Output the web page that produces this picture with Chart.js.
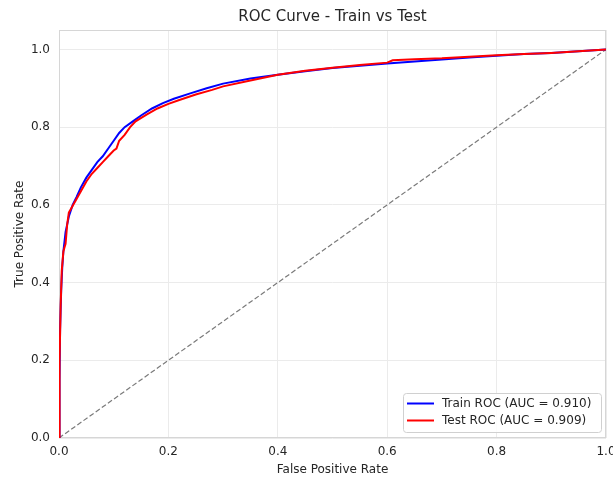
<!DOCTYPE html>
<html>
<head>
<meta charset="utf-8">
<script src="https://cdn.jsdelivr.net/npm/chart.js@4/dist/chart.umd.min.js"></script>
<style>
  html, body { margin: 0; padding: 0; background: #fff; }
  #wrap { width: 613px; height: 477px; }
</style>
</head>
<body>
<div id="wrap"><canvas id="roc" width="613" height="477"></canvas></div>
<script>
// ROC curve - train
var trainFpr = [0, 0.001, 0.002, 0.004, 0.006, 0.008, 0.012, 0.018, 0.025, 0.032, 0.04, 0.05, 0.06, 0.07, 0.08, 0.09, 0.1, 0.11, 0.12, 0.135, 0.15, 0.17, 0.19, 0.21, 0.24, 0.27, 0.3, 0.35, 0.4, 0.45, 0.5, 0.55, 0.6, 0.65, 0.7, 0.75, 0.8, 0.85, 0.9, 0.95, 1.0];
var trainTpr = [0, 0.15, 0.28, 0.38, 0.44, 0.48, 0.53, 0.57, 0.6, 0.62, 0.645, 0.67, 0.69, 0.71, 0.725, 0.745, 0.765, 0.785, 0.8, 0.815, 0.83, 0.848, 0.862, 0.873, 0.887, 0.9, 0.912, 0.925, 0.935, 0.944, 0.952, 0.958, 0.964, 0.969, 0.974, 0.979, 0.984, 0.988, 0.991, 0.995, 1.0];

// ROC curve - test
var testFpr = [0, 0.001, 0.003, 0.005, 0.008, 0.01, 0.012, 0.015, 0.018, 0.022, 0.03, 0.04, 0.05, 0.06, 0.07, 0.08, 0.09, 0.1, 0.105, 0.11, 0.12, 0.13, 0.14, 0.16, 0.18, 0.2, 0.22, 0.25, 0.28, 0.3, 0.35, 0.4, 0.45, 0.5, 0.55, 0.6, 0.61, 0.65, 0.7, 0.75, 0.8, 0.85, 0.9, 0.95, 1.0];
var testTpr = [0, 0.2, 0.34, 0.43, 0.48, 0.49, 0.5, 0.55, 0.58, 0.59, 0.61, 0.635, 0.66, 0.68, 0.695, 0.71, 0.725, 0.74, 0.745, 0.765, 0.78, 0.8, 0.815, 0.832, 0.848, 0.86, 0.87, 0.884, 0.896, 0.905, 0.92, 0.935, 0.945, 0.953, 0.96, 0.966, 0.972, 0.975, 0.977, 0.981, 0.985, 0.988, 0.991, 0.995, 1.0];

// chance line
var diagX = [0, 1];
var diagY = [0, 1];

var seriesNames = ['Train ROC (AUC = 0.910)', 'Test ROC (AUC = 0.909)'];
var xTicks = [0, 0.2, 0.4, 0.6, 0.8, 1.0];
var yTicks = [0, 0.2, 0.4, 0.6, 0.8, 1.0];

function pontos(xs, ys) {
  var out = [];
  for (var i = 0; i < xs.length; i++) out.push({x: xs[i], y: ys[i]});
  return out;
}

var fonte = 'DejaVu Sans';
var corTexto = '#262626';

// moldura do grafico + legenda dentro da area
var extras = {
  id: 'extras',
  beforeDatasetsDraw: function(chart) {
    var a = chart.chartArea, c = chart.ctx;
    c.save();
    c.strokeStyle = '#d6d6d6';
    c.lineWidth = 1;
    c.strokeRect(a.left + 0.5, a.top + 0.5, a.right - a.left - 1, a.bottom - a.top - 1);
    c.restore();
  },
  afterDraw: function(chart) {
    var a = chart.chartArea, c = chart.ctx;
    var ds = chart.data.datasets;
    var bx = a.right - 203, by = a.bottom - 45, bw = 198, bh = 39;
    c.save();
    c.fillStyle = 'rgba(255,255,255,0.85)';
    c.strokeStyle = '#d0d0d0';
    c.lineWidth = 1;
    c.beginPath();
    c.roundRect(bx + 0.5, by + 0.5, bw, bh, 3);
    c.fill();
    c.stroke();
    c.font = '12px "' + fonte + '"';
    c.textBaseline = 'middle';
    for (var i = 0; i < 2; i++) {
      var ly = by + 10.5 + i * 17;
      c.strokeStyle = ds[i].borderColor;
      c.lineWidth = 2;
      c.beginPath();
      c.moveTo(bx + 4, ly);
      c.lineTo(bx + 31, ly);
      c.stroke();
      c.fillStyle = corTexto;
      c.fillText(seriesNames[i], bx + 39, ly + 0.5);
    }
    c.restore();
  }
};

var ctx = document.getElementById('roc');
var grafico = new Chart(ctx, {
  type: 'line',
  data: {
    datasets: [
      {
        label: seriesNames[0],
        data: pontos(trainFpr, trainTpr),
        borderColor: '#0000ff',
        borderWidth: 2,
        pointRadius: 0,
        tension: 0,
        fill: false,
        order: 2
      },
      {
        label: seriesNames[1],
        data: pontos(testFpr, testTpr),
        borderColor: '#ff0000',
        borderWidth: 2,
        pointRadius: 0,
        tension: 0,
        fill: false,
        order: 1
      },
      {
        label: 'chance',
        data: pontos(diagX, diagY),
        borderColor: '#7a7a7a',
        borderWidth: 1.2,
        borderDash: [5, 2.5],
        pointRadius: 0,
        fill: false,
        order: 3
      }
    ]
  },
  options: {
    responsive: false,
    animation: false,
    layout: { padding: { left: 13, right: 7, top: 0, bottom: 0 } },
    plugins: {
      legend: { display: false },
      tooltip: { enabled: false },
      title: {
        display: true,
        text: 'ROC Curve - Train vs Test',
        fullSize: false,
        color: corTexto,
        font: { family: fonte, size: 15, weight: 'normal' },
        padding: { top: 8, bottom: 4 }
      }
    },
    scales: {
      x: {
        type: 'linear',
        min: 0,
        max: 1,
        afterBuildTicks: function(s) { s.ticks = xTicks.map(function(v) { return {value: v}; }); },
        afterFit: function(s) { s.height = 39; s.paddingRight = 0; s.paddingLeft = 0; },
        grid: { color: '#ebebeb', drawTicks: false },
        border: { display: false },
        ticks: {
          color: corTexto,
          padding: 7,
          maxRotation: 0,
          font: { family: fonte, size: 12 },
          callback: function(v) { return v.toFixed(1); }
        },
        title: {
          display: true,
          text: 'False Positive Rate',
          color: corTexto,
          font: { family: fonte, size: 12 },
          padding: { top: 0, bottom: 0 }
        }
      },
      y: {
        type: 'linear',
        min: 0,
        max: 1.05,
        afterBuildTicks: function(s) { s.ticks = yTicks.map(function(v) { return {value: v}; }); },
        afterFit: function(s) { s.width = 46; },
        grid: { color: '#ebebeb', drawTicks: false },
        border: { display: false },
        ticks: {
          color: corTexto,
          padding: 9,
          font: { family: fonte, size: 12 },
          callback: function(v) { return v.toFixed(1); }
        },
        title: {
          display: true,
          text: 'True Positive Rate',
          color: corTexto,
          font: { family: fonte, size: 12 },
          padding: { top: 0, bottom: 0 }
        }
      }
    }
  },
  plugins: [extras]
});
</script>
</body>
</html>
